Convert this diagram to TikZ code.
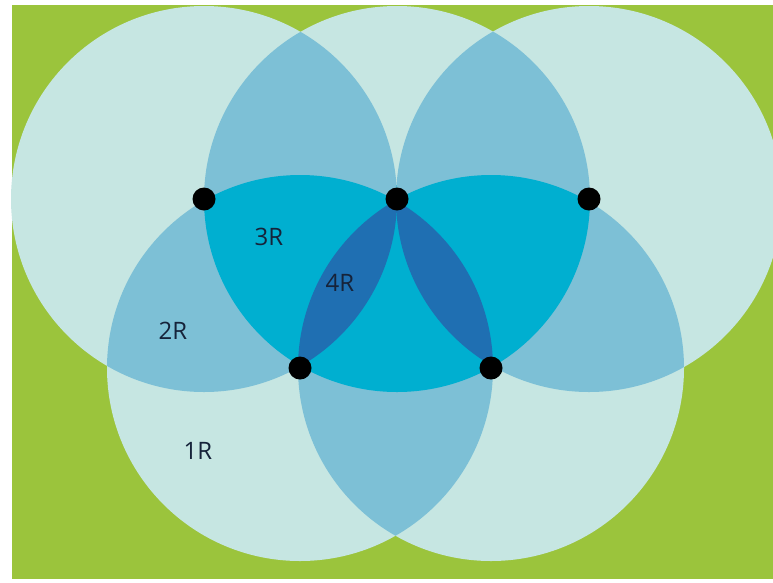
\documentclass[tikz,border=0pt]{standalone}
\usepackage{fontspec}
\setmainfont{Open Sans}
\definecolor{field}{HTML}{9BC43C}
\definecolor{cover1}{HTML}{C6E6E2}
\definecolor{cover2}{HTML}{7DC0D6}
\definecolor{cover3}{HTML}{00AFD0}
\definecolor{cover4}{HTML}{1F6FB2}
\definecolor{labelink}{HTML}{16233A}
\newcommand{\rng}{193pt}
\newcommand{\cov}[1]{(#1) circle[radius=\rng]}
% fill the intersection of two, three or four coverage discs
\newcommand{\twofill}[2]{\begin{scope}\clip \cov{#1}; \fill[cover2] \cov{#2};\end{scope}}
\newcommand{\threefill}[3]{\begin{scope}\clip \cov{#1}; \clip \cov{#2}; \fill[cover3] \cov{#3};\end{scope}}
\newcommand{\fourfill}[4]{\begin{scope}\clip \cov{#1}; \clip \cov{#2}; \clip \cov{#3}; \fill[cover4] \cov{#4};\end{scope}}
\begin{document}
\begin{tikzpicture}[x=1pt,y=-1pt,
  station/.style={circle,fill=black,minimum size=23pt,inner sep=0pt},
  lbl/.style={text=labelink,font=\fontsize{24}{24}\selectfont,inner sep=0pt}]
\useasboundingbox (0,0) rectangle (773,582);
\fill[white] (0,0) rectangle (773,582);
\fill[field] (12,5) rectangle (773,579);
% station positions
\coordinate (A) at (204,199);
\coordinate (B) at (397,199);
\coordinate (C) at (589,199);
\coordinate (D) at (300,368);
\coordinate (E) at (491,368);
% single coverage
\foreach \p in {A,B,C,D,E} \fill[cover1] \cov{\p};
% double coverage
\twofill{A}{B} \twofill{A}{C} \twofill{A}{D} \twofill{A}{E}
\twofill{B}{C} \twofill{B}{D} \twofill{B}{E}
\twofill{C}{D} \twofill{C}{E} \twofill{D}{E}
% triple coverage
\threefill{A}{B}{C} \threefill{A}{B}{D} \threefill{A}{B}{E}
\threefill{A}{C}{D} \threefill{A}{C}{E} \threefill{A}{D}{E}
\threefill{B}{C}{D} \threefill{B}{C}{E} \threefill{B}{D}{E}
\threefill{C}{D}{E}
% quadruple coverage
\fourfill{A}{B}{C}{D} \fourfill{A}{B}{C}{E} \fourfill{A}{B}{D}{E}
\fourfill{A}{C}{D}{E} \fourfill{B}{C}{D}{E}
% stations
\foreach \p in {A,B,C,D,E} \node[station] (s\p) at (\p) {};
% labels
\node[lbl] (l3) at (269,237) {3R};
\node[lbl] (l4) at (340,283) {4R};
\node[lbl] (l2) at (173,331) {2R};
\node[lbl] (l1) at (198,451) {1R};
\end{tikzpicture}
\end{document}
